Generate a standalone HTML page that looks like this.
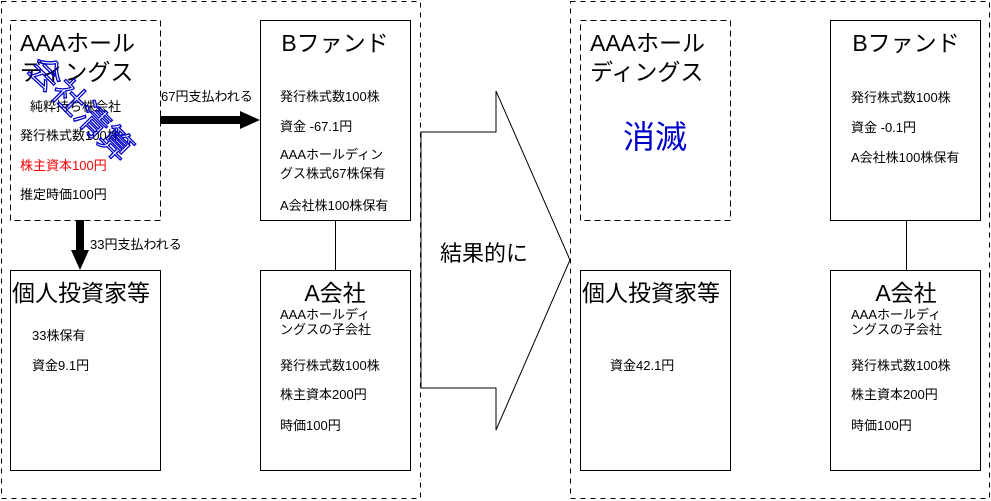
<!DOCTYPE html>
<html><head><meta charset="utf-8"><style>
html,body{margin:0;padding:0;background:#fff;}
svg{display:block;}
text{font-family:"Liberation Sans","Noto Sans CJK JP",sans-serif;fill:#000;}
</style></head><body>
<svg width="991" height="501" viewBox="0 0 991 501" xmlns="http://www.w3.org/2000/svg">
<g fill="none" stroke="#000" stroke-width="1">
<rect x="1.5" y="1.5" width="419" height="497" stroke-dasharray="5,5"/>
<rect x="570.5" y="1.5" width="419" height="497" stroke-dasharray="5,5"/>
<rect x="10.5" y="20.5" width="150" height="200" stroke-dasharray="6,4"/>
<rect x="260.5" y="20.5" width="150" height="200"/>
<rect x="10.5" y="270.5" width="150" height="200"/>
<rect x="260.5" y="270.5" width="150" height="200"/>
<line x1="335.5" y1="220" x2="335.5" y2="270"/>
<rect x="580.5" y="20.5" width="150" height="200" stroke-dasharray="6,4"/>
<rect x="830.5" y="20.5" width="150" height="200"/>
<rect x="580.5" y="270.5" width="150" height="200"/>
<rect x="830.5" y="270.5" width="150" height="200"/>
<line x1="906.5" y1="220" x2="906.5" y2="270"/>
<polygon points="421,132 496,132 496,91 570,260 496,430 496,388 421,388" fill="#fff"/>
</g>
<rect x="160" y="116" width="82" height="8" fill="#000"/>
<polygon points="240,111 260,120 240,129" fill="#000"/>
<rect x="76" y="220" width="8" height="34" fill="#000"/>
<polygon points="71,250 89,250 80,270" fill="#000"/>
<text x="161" y="101" font-size="13">67円支払われる</text>
<text x="90" y="249" font-size="13">33円支払われる</text>
<text x="20" y="51" font-size="23">AAAホール</text>
<text x="20" y="80" font-size="23">ディングス</text>
<text x="30" y="111" font-size="13">純粋持ち株会社</text>
<text x="20" y="140" font-size="13">発行株式数100株</text>
<text x="20" y="170" font-size="13" style="fill:#f00">株主資本100円</text>
<text x="20" y="199" font-size="13">推定時価100円</text>
<text x="0" y="0" font-size="33" transform="translate(26,70) rotate(45)" style="fill:none;stroke:#0000cc;stroke-width:1.3">会社清算</text>
<text x="335" y="51" font-size="23" text-anchor="middle">Bファンド</text>
<text x="280" y="101" font-size="13">発行株式数100株</text>
<text x="280" y="131" font-size="13">資金 -67.1円</text>
<text x="280" y="159" font-size="13">AAAホールディン</text>
<text x="280" y="178" font-size="13">グス株式67株保有</text>
<text x="280" y="210" font-size="13">A会社株100株保有</text>
<text x="12" y="301" font-size="23">個人投資家等</text>
<text x="32" y="340" font-size="13">33株保有</text>
<text x="32" y="370" font-size="13">資金9.1円</text>
<text x="335" y="301" font-size="23" text-anchor="middle">A会社</text>
<text x="280" y="319" font-size="13">AAAホールディ</text>
<text x="280" y="334" font-size="13">ングスの子会社</text>
<text x="280" y="370" font-size="13">発行株式数100株</text>
<text x="280" y="399" font-size="13">株主資本200円</text>
<text x="280" y="430" font-size="13">時価100円</text>
<text x="440" y="261" font-size="22">結果的に</text>
<text x="590" y="51" font-size="23">AAAホール</text>
<text x="590" y="80" font-size="23">ディングス</text>
<text x="655" y="148" font-size="32" text-anchor="middle" style="fill:#0000cc">消滅</text>
<text x="906" y="51" font-size="23" text-anchor="middle">Bファンド</text>
<text x="851" y="102" font-size="13">発行株式数100株</text>
<text x="851" y="132" font-size="13">資金 -0.1円</text>
<text x="851" y="162" font-size="13">A会社株100株保有</text>
<text x="582" y="301" font-size="23">個人投資家等</text>
<text x="610" y="370" font-size="13">資金42.1円</text>
<text x="906" y="301" font-size="23" text-anchor="middle">A会社</text>
<text x="851" y="319" font-size="13">AAAホールディ</text>
<text x="851" y="334" font-size="13">ングスの子会社</text>
<text x="851" y="370" font-size="13">発行株式数100株</text>
<text x="851" y="399" font-size="13">株主資本200円</text>
<text x="851" y="430" font-size="13">時価100円</text>
</svg>
</body></html>
